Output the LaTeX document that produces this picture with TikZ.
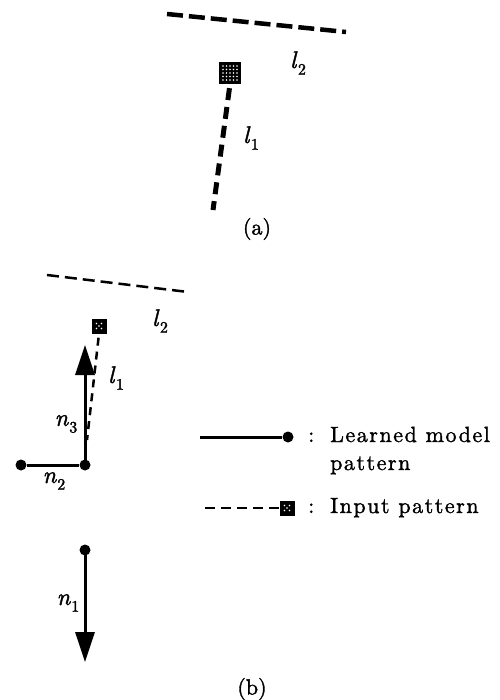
\documentclass[tikz,border=0pt]{standalone}
\usepackage{fontspec}
\setmainfont{lmroman10-regular.otf}[ItalicFont=lmroman10-italic.otf,FakeBold=1.6]
\newfontfamily\legfont{lmroman10-regular.otf}[LetterSpace=7,FakeBold=1.4]
\usetikzlibrary{arrows.meta}
\newcommand\symlbl[2]{\textit{#1}\kern0.5pt\raisebox{-0.28em}{\fontsize{16}{18}\selectfont #2}}
\tikzset{
  dotn/.style={circle,fill=black,inner sep=0pt,minimum size=11pt},
  sqbig/.style={rectangle,fill=black,inner sep=0pt,minimum size=22pt},
  sqsmall/.style={rectangle,fill=black,inner sep=0pt,minimum size=15pt},
  modelline/.style={line width=3pt},
  arrowline/.style={line width=3pt,-{Triangle[length=30pt,width=19pt]}},
  lbl/.style={font=\fontsize{24}{28}\selectfont,inner sep=0pt},
  caplbl/.style={font=\fontsize{22}{26}\selectfont,inner sep=0pt},
  legtxt/.style={font=\legfont\fontsize{22}{26}\selectfont,inner sep=0pt,anchor=base west},
}
\begin{document}
\begin{tikzpicture}[x=1pt,y=-1pt]
\useasboundingbox (0,0) rectangle (499,700);
% ---------- (a) ----------
\coordinate (a2s) at (167,14);
\coordinate (a2e) at (346,32);
\draw[line width=4.5pt,dash pattern=on 16pt off 6pt] (a2s) -- (a2e);
\node[sqbig] (sqa) at (230,73) {};
\foreach \dx in {-7,-3.5,0,3.5,7}
  \foreach \dy in {-7,-3.5,0,3.5,7}
    \fill[white] ([shift={(\dx,\dy)}]sqa.center) circle (0.9pt);
\coordinate (a1e) at (213,210);
\draw[line width=5pt,dash pattern=on 12pt off 7pt,shorten <=4pt] (sqa.south) -- (a1e);
\node[lbl] (la2) at (298,63) {\symlbl{l}{2}};
\node[lbl] (la1) at (251,138) {\symlbl{l}{1}};
\node[caplbl] (capa) at (257,229) {(a)};
% ---------- (b) ----------
\coordinate (b2s) at (47,275);
\coordinate (b2e) at (188,292);
\draw[line width=2.5pt,dash pattern=on 12pt off 6pt] (b2s) -- (b2e);
\node[sqsmall] (sqb) at (99,326) {};
\foreach \dx/\dy in {-2.5/-2.5,2.5/-2.5,0/0,-2.5/2.5,2.5/2.5}
  \fill[white] ([shift={(\dx,\dy)}]sqb.center) circle (0.8pt);
\node[dotn] (d1) at (21,465) {};
\node[dotn] (d2) at (85,465) {};
\node[dotn] (d3) at (85,550) {};
\coordinate (t3) at (85,345);
\coordinate (t1) at (85,662);
\draw[modelline] (d1) -- (d2);
\draw[arrowline] (d2.center) -- (t3);
\draw[arrowline] (d3.center) -- (t1);
\coordinate (b1e) at (87,440);
\draw[line width=2.5pt,dash pattern=on 8pt off 6pt,shorten <=4pt] (sqb.south) -- (b1e);
\node[lbl] (lb2) at (160,321) {\symlbl{l}{2}};
\node[lbl] (lb1) at (116,378) {\symlbl{l}{1}};
\node[lbl] (n3) at (66,424) {\symlbl{n}{3}};
\node[lbl] (n2) at (54,481) {\symlbl{n}{2}};
\node[lbl] (n1) at (68,603) {\symlbl{n}{1}};
\node[caplbl] (capb) at (252,689) {(b)};
% ---------- legend ----------
\coordinate (lg1) at (200,437);
\node[dotn] (lgd) at (288,437) {};
\draw[modelline] (lg1) -- (lgd);
\coordinate (lg2) at (205,508);
\node[sqsmall] (lgs) at (287,508) {};
\foreach \dx/\dy in {-2.5/-2.5,2.5/-2.5,0/0,-2.5/2.5,2.5/2.5}
  \fill[white] ([shift={(\dx,\dy)}]lgs.center) circle (0.8pt);
\draw[line width=2.5pt,dash pattern=on 10pt off 6pt] (lg2) -- (lgs.west);
\node[legtxt] (c1) at (308,442) {:};
\node[legtxt] (c2) at (308,513) {:};
\node[legtxt] (t1a) at (330,442) {Learned model};
\node[legtxt] (t1b) at (330,470) {pattern};
\node[legtxt] (t2) at (330,513) {Input pattern};
\end{tikzpicture}
\end{document}
